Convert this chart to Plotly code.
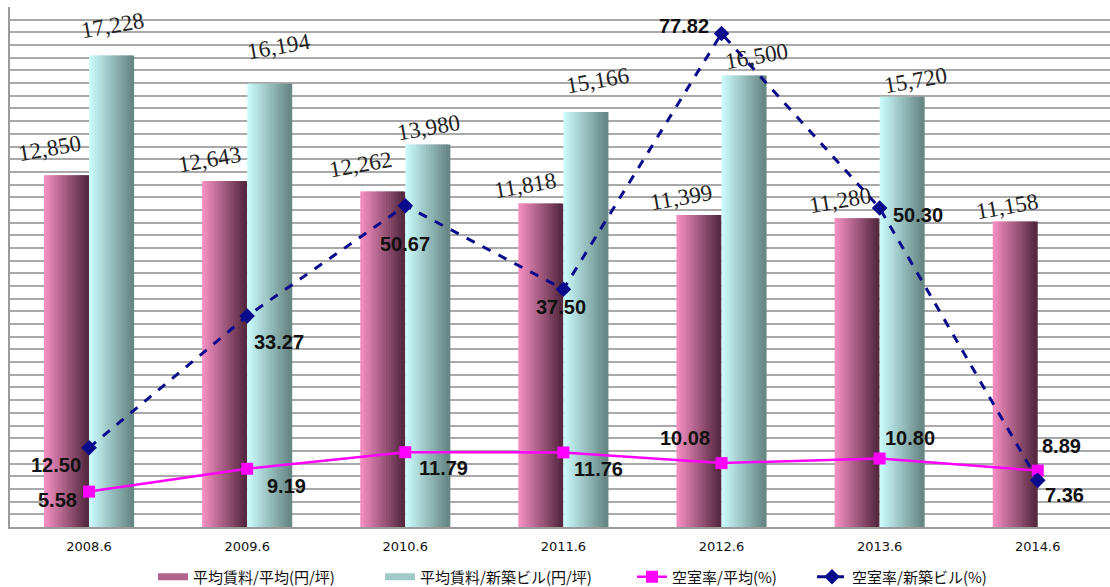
import plotly.graph_objects as go

# ---------------- data ----------------
categories = ["2008.6", "2009.6", "2010.6", "2011.6", "2012.6", "2013.6", "2014.6"]
rent_avg = [12850, 12643, 12262, 11818, 11399, 11280, 11158]
rent_new = [17228, 16194, 13980, 15166, 16500, 15720, None]
vac_avg = [5.58, 9.19, 11.79, 11.76, 10.08, 10.80, 8.89]
vac_new = [12.50, 33.27, 50.67, 37.50, 77.82, 50.30, 7.36]

names = ["平均賃料/平均(円/坪)", "平均賃料/新築ビル(円/坪)", "空室率/平均(%)", "空室率/新築ビル(%)"]

# ---------------- styles ----------------
PINK_L, PINK_R = (249, 146, 198), (88, 42, 66)
CYAN_L, CYAN_R = (206, 255, 255), (104, 136, 134)
BAR_W = 0.285
N_SLICES = 18
CAT_PX = 158.1

# label offsets (px): xshift, yshift
pink_lab_off = [(-17, 27), (-15, 21), (-22, 27), (-16, 18), (-18, 18), (-17, 18), (-8, 15)]
cyan_lab_off = [(1, 30), (9, 37), (1, 17), (12, 31), (12, 19), (13, 16)]
avg_lab_off = [(-32, -8), (39, -17), (38, -16), (35, -17), (-37, 25), (30, 21), (24, 25)]
new_lab_off = [(-33, -17), (32, -26), (0, -38), (-2, -18), (-38, 8), (38, -7), (27, -15)]

# legend text left edges (px)
legend_text_x = [195, 422, 674, 854]


def lerp(c1, c2, t):
    return "rgb(%d,%d,%d)" % tuple(round(a + (b - a) * t) for a, b in zip(c1, c2))


fig = go.Figure()

# gradient bars drawn as thin vertical slices of the same bars
def add_gradient_bars(values, start, cl, cr):
    sw = BAR_W / N_SLICES
    extra = sw * 0.7
    for i in range(N_SLICES):
        t = i / (N_SLICES - 1)
        ex = 0 if i == 0 else extra
        fig.add_trace(go.Bar(
            x=categories, y=values, yaxis="y",
            width=sw + ex, offset=start + i * sw - ex,
            marker=dict(color=lerp(cl, cr, t), line=dict(width=0)),
            showlegend=False, hoverinfo="skip",
        ))

add_gradient_bars(rent_avg, -BAR_W, PINK_L, PINK_R)
add_gradient_bars(rent_new, 0.0, CYAN_L, CYAN_R)

# legend entries for bars
fig.add_trace(go.Scatter(x=[None], y=[None], mode="lines", name=names[0], legend="legend",
                         line=dict(color=lerp(PINK_L, PINK_R, 0.45), width=7)))
fig.add_trace(go.Scatter(x=[None], y=[None], mode="lines", name=names[1], legend="legend2",
                         line=dict(color=lerp(CYAN_L, CYAN_R, 0.45), width=7)))

fig.add_trace(go.Scatter(
    x=categories, y=vac_avg, yaxis="y2", mode="lines+markers", name=names[2], legend="legend3",
    line=dict(color="#FF00FF", width=2.5),
    marker=dict(symbol="square", size=12, color="#FF00FF"),
))
fig.add_trace(go.Scatter(
    x=categories, y=vac_new, yaxis="y2", mode="lines+markers", name=names[3], legend="legend4",
    line=dict(color="#0A0A8C", width=3, dash="dash"),
    marker=dict(symbol="diamond", size=12, color="#0A0A8C"),
))

ann = []
bar_font = dict(family="Liberation Serif, serif", size=23, color="#222222")
for i, v in enumerate(rent_avg):
    dx, dy = pink_lab_off[i]
    ann.append(dict(x=i, y=v, xref="x", yref="y", text=f"{v:,}", showarrow=False,
                    xshift=-BAR_W / 2 * CAT_PX + dx, yshift=dy, textangle=-10, font=bar_font))
for i, v in enumerate(rent_new):
    if v is None:
        continue
    dx, dy = cyan_lab_off[i]
    ann.append(dict(x=i, y=v, xref="x", yref="y", text=f"{v:,}", showarrow=False,
                    xshift=BAR_W / 2 * CAT_PX + dx, yshift=dy, textangle=-10, font=bar_font))

line_font = dict(family="Liberation Sans, Arial, sans-serif", size=20, color="#111111", weight="bold")
for vals, offs in ((vac_avg, avg_lab_off), (vac_new, new_lab_off)):
    for i, v in enumerate(vals):
        dx, dy = offs[i]
        ann.append(dict(x=i, y=v, xref="x", yref="y2", text=f"{v:.2f}", showarrow=False,
                        xshift=dx, yshift=dy, font=line_font))

PLOT_L, PLOT_W = 10, 1100
PLOT_B, PLOT_H = 527, 520
leg_common = dict(orientation="h", xanchor="left", yanchor="middle",
                  y=-(577 - PLOT_B) / PLOT_H,
                  font=dict(family="Noto Sans CJK JP", size=15, color="#111111"),
                  bgcolor="rgba(0,0,0,0)", itemwidth=30)
legends = {}
for k, tx in enumerate(legend_text_x):
    key = "legend" if k == 0 else f"legend{k + 1}"
    legends[key] = dict(leg_common, x=(tx - 42 - PLOT_L) / PLOT_W)

fig.update_layout(
    width=1110, height=587,
    margin=dict(l=10, r=0, t=7, b=60, autoexpand=False),
    paper_bgcolor="white", plot_bgcolor="white",
    barmode="overlay",
    showlegend=True,
    annotations=ann,
    xaxis=dict(type="category", categoryorder="array", categoryarray=categories,
               range=[-0.5, 6.457], showgrid=False, showline=True, linecolor="#9a9a9a",
               linewidth=2, ticks="outside", ticklen=6, tickcolor="rgba(0,0,0,0)",
               tickfont=dict(family="DejaVu Sans", size=13, color="#111111")),
    yaxis=dict(range=[0, 19000], showgrid=False, showticklabels=False, zeroline=False,
               showline=True, linecolor="#9a9a9a", linewidth=2, ticks=""),
    yaxis2=dict(range=[0, 82], dtick=2, overlaying="y", side="right", showgrid=True,
                gridcolor="#a9a9a9", gridwidth=2, showticklabels=False, zeroline=False,
                showline=False, ticks=""),
    **legends,
)

fig.write_html("out.html")
